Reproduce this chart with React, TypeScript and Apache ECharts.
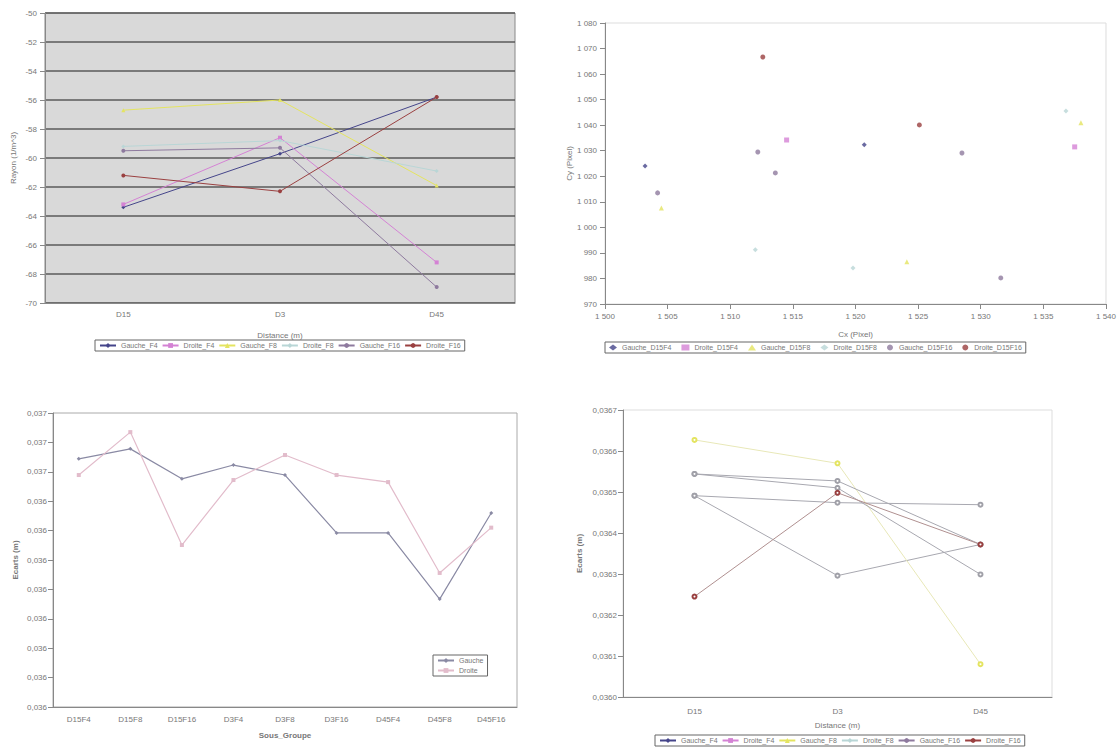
import React, { useEffect, useRef } from "react";
import * as echarts from "echarts";

// ---------- data ----------
const distCats = ["D15", "D3", "D45"];
const seriesNamesF = ["Gauche_F4", "Droite_F4", "Gauche_F8", "Droite_F8", "Gauche_F16", "Droite_F16"];

// chart 1 (top-left)
const c1Gauche_F4 = [-63.4, -59.7, -55.8];
const c1Droite_F4 = [-63.2, -58.6, -67.2];
const c1Gauche_F8 = [-56.7, -56.0, -61.9];
const c1Droite_F8 = [-59.2, -58.8, -60.9];
const c1Gauche_F16 = [-59.5, -59.3, -68.9];
const c1Droite_F16 = [-61.2, -62.3, -55.8];

// chart 2 (top-right) scatter
const c2Names = ["Gauche_D15F4", "Droite_D15F4", "Gauche_D15F8", "Droite_D15F8", "Gauche_D15F16", "Droite_D15F16"];
const c2Gauche_D15F4 = [[1503.2, 1024.0], [1520.7, 1032.3]];
const c2Droite_D15F4 = [[1514.5, 1034.2], [1537.5, 1031.5]];
const c2Gauche_D15F8 = [[1504.5, 1007.6], [1524.1, 986.5], [1538.0, 1041.0]];
const c2Droite_D15F8 = [[1512.0, 991.2], [1519.8, 984.1], [1536.8, 1045.6]];
const c2Gauche_D15F16 = [[1504.2, 1013.5], [1512.2, 1029.5], [1513.6, 1021.3], [1528.5, 1029.1], [1531.6, 980.2]];
const c2Droite_D15F16 = [[1512.6, 1066.7], [1525.1, 1040.1]];

// chart 3 (bottom-left)
const groupCats = ["D15F4", "D15F8", "D15F16", "D3F4", "D3F8", "D3F16", "D45F4", "D45F8", "D45F16"];
const c3Gauche = [0.036544, 0.036578, 0.036476, 0.036523, 0.036489, 0.036292, 0.036292, 0.036067, 0.03636];
const c3Droite = [0.036489, 0.036635, 0.036251, 0.036472, 0.036557, 0.036489, 0.036465, 0.036156, 0.03631];
const c3TickLabels = ["0,036", "0,036", "0,036", "0,036", "0,036", "0,036", "0,036", "0,036", "0,037", "0,037", "0,037"];

// chart 4 (bottom-right)
const c4Gauche_F4 = [0.036491, 0.036474, 0.036469];
const c4Droite_F4 = [0.036491, 0.036296, 0.036372];
const c4Gauche_F8 = [0.036627, 0.03657, 0.03608];
const c4Droite_F8 = [0.036544, 0.036527, 0.036372];
const c4Gauche_F16 = [0.036544, 0.03651, 0.036299];
const c4Droite_F16 = [0.036245, 0.036498, 0.036372];
const c4TickLabels = ["0,0360", "0,0361", "0,0362", "0,0363", "0,0364", "0,0365", "0,0366", "0,0367"];

// ---------- styles ----------
const colors = ["#45458a", "#d482d4", "#e4e460", "#b9d6d6", "#8e7a9e", "#9a4040"];
const symbols = ["diamond", "rect", "triangle", "diamond", "circle", "circle"];
const txt = { color: "#777", fontSize: 8, fontFamily: "Liberation Sans" };

export default function App() {
  const ref = useRef<HTMLDivElement>(null);
  useEffect(() => {
    if (!ref.current) return;
    const chart = echarts.init(ref.current, null, { renderer: "svg" });

    const axisLine = { show: true, lineStyle: { color: "#888", width: 1 } };
    const c1Data = [c1Gauche_F4, c1Droite_F4, c1Gauche_F8, c1Droite_F8, c1Gauche_F16, c1Droite_F16];
    const c2Data = [c2Gauche_D15F4, c2Droite_D15F4, c2Gauche_D15F8, c2Droite_D15F8, c2Gauche_D15F16, c2Droite_D15F16];
    const c4Data = [c4Gauche_F4, c4Droite_F4, c4Gauche_F8, c4Droite_F8, c4Gauche_F16, c4Droite_F16];

    const series: any[] = [];
    c1Data.forEach((d, i) =>
      series.push({
        type: "line", name: seriesNamesF[i], xAxisIndex: 0, yAxisIndex: 0, data: d,
        symbol: symbols[i], symbolSize: 4, itemStyle: { color: colors[i] }, lineStyle: { color: colors[i], width: 1 },
      })
    );
    c2Data.forEach((d, i) =>
      series.push({
        type: "scatter", name: c2Names[i], xAxisIndex: 1, yAxisIndex: 1, data: d,
        symbol: symbols[i], symbolSize: 5, itemStyle: { color: colors[i] },
      })
    );
    series.push({
      type: "line", name: "Gauche", xAxisIndex: 2, yAxisIndex: 2, data: c3Gauche,
      symbol: "diamond", symbolSize: 4, itemStyle: { color: "#8a8aa4" }, lineStyle: { color: "#8a8aa4", width: 1.2 },
    });
    series.push({
      type: "line", name: "Droite", xAxisIndex: 2, yAxisIndex: 2, data: c3Droite,
      symbol: "rect", symbolSize: 4, itemStyle: { color: "#e2bccb" }, lineStyle: { color: "#e2bccb", width: 1.2 },
    });
    c4Data.forEach((d, i) =>
      series.push({
        type: "line", name: seriesNamesF[i], xAxisIndex: 3, yAxisIndex: 3, data: d,
        symbol: "emptyCircle", symbolSize: 4, itemStyle: { color: i === 5 ? colors[5] : i === 2 ? colors[2] : "#a0a0a8" },
        lineStyle: { color: i === 5 ? "#b09090" : i === 2 ? "#e8e8b8" : "#a8a8b0", width: 1 },
      })
    );

    const legendBase = {
      textStyle: { ...txt, fontSize: 7 }, itemWidth: 16, itemHeight: 6, itemGap: 4,
      borderColor: "#666", borderWidth: 1, padding: [2, 4], backgroundColor: "#fff",
    };

    chart.setOption({
      animation: false,
      backgroundColor: "#fff",
      textStyle: txt,
      grid: [
        { left: 45, top: 13, width: 470, height: 290, show: true, backgroundColor: "#d9d9d9", borderColor: "#888", borderWidth: 1 },
        { left: 605, top: 23, width: 504, height: 281, show: true, backgroundColor: "#fff", borderColor: "#ddd", borderWidth: 1 },
        { left: 53, top: 413, width: 464, height: 294, show: true, backgroundColor: "#fff", borderColor: "#aaa", borderWidth: 1 },
        { left: 623, top: 410, width: 429, height: 287, show: true, backgroundColor: "#fff", borderColor: "#ddd", borderWidth: 1 },
      ],
      xAxis: [
        {
          gridIndex: 0, type: "category", data: distCats, boundaryGap: true,
          axisLine, axisTick: { show: false }, axisLabel: { ...txt, margin: 7 },
          name: "Distance (m)", nameLocation: "middle", nameGap: 28, nameTextStyle: txt,
        },
        {
          gridIndex: 1, type: "value", min: 1500, max: 1540, interval: 5,
          axisLine, axisTick: { show: true, lineStyle: { color: "#888" } }, splitLine: { show: false },
          axisLabel: { ...txt, margin: 8, formatter: (v: number) => String(v).replace(/^(\d)(\d{3})$/, "$1 $2") },
          name: "Cx (Pixel)", nameLocation: "middle", nameGap: 26, nameTextStyle: txt,
        },
        {
          gridIndex: 2, type: "category", data: groupCats, boundaryGap: true,
          axisLine, axisTick: { show: false }, axisLabel: { ...txt, margin: 8 },
          name: "Sous_Groupe", nameLocation: "middle", nameGap: 24, nameTextStyle: { ...txt, fontWeight: "bold" },
        },
        {
          gridIndex: 3, type: "category", data: distCats, boundaryGap: true,
          axisLine, axisTick: { show: false }, axisLabel: { ...txt, margin: 10 },
          name: "Distance (m)", nameLocation: "middle", nameGap: 24, nameTextStyle: txt,
        },
      ],
      yAxis: [
        {
          gridIndex: 0, type: "value", min: -70, max: -50, interval: 2,
          axisLine, axisTick: { show: true, lineStyle: { color: "#888" } },
          splitLine: { show: true, lineStyle: { color: "#5a5a5a", width: 1.5 } },
          axisLabel: { ...txt, margin: 8 },
          name: "Rayon (1/m^3)", nameLocation: "middle", nameGap: 28, nameTextStyle: txt,
        },
        {
          gridIndex: 1, type: "value", min: 970, max: 1080, interval: 10,
          axisLine, axisTick: { show: true, lineStyle: { color: "#888" } }, splitLine: { show: false },
          axisLabel: { ...txt, margin: 8, formatter: (v: number) => String(v).replace(/^(\d)(\d{3})$/, "$1 $2") },
          name: "Cy (Pixel)", nameLocation: "middle", nameGap: 32, nameTextStyle: txt,
        },
        {
          gridIndex: 2, type: "value", min: 0.0357, max: 0.0367, interval: 0.0001,
          axisLine, axisTick: { show: true, lineStyle: { color: "#888" } }, splitLine: { show: false },
          axisLabel: {
            ...txt, margin: 6,
            formatter: (v: number) => c3TickLabels[Math.round((v - 0.0357) / 0.0001)] ?? "",
          },
          name: "Ecarts (m)", nameLocation: "middle", nameGap: 34, nameTextStyle: { ...txt, fontWeight: "bold" },
        },
        {
          gridIndex: 3, type: "value", min: 0.036, max: 0.0367, interval: 0.0001,
          axisLine, axisTick: { show: true, lineStyle: { color: "#888" } }, splitLine: { show: false },
          axisLabel: {
            ...txt, margin: 6,
            formatter: (v: number) => c4TickLabels[Math.round((v - 0.036) / 0.0001)] ?? "",
          },
          name: "Ecarts (m)", nameLocation: "middle", nameGap: 40, nameTextStyle: { ...txt, fontWeight: "bold" },
        },
      ],
      legend: [
        { ...legendBase, data: seriesNamesF.map((n) => n), left: 95, top: 340 },
        { ...legendBase, data: c2Names, left: 605, top: 342, itemWidth: 8, itemGap: 10 },
        { ...legendBase, data: ["Gauche", "Droite"], orient: "vertical", left: 433, top: 655, itemGap: 3 },
        { ...legendBase, data: seriesNamesF.map((n) => n), left: 655, top: 735 },
      ],
      series,
    });
    return () => chart.dispose();
  }, []);
  return <div ref={ref} style={{ position: "fixed", left: 0, top: 0, width: 1119, height: 748 }} />;
}
